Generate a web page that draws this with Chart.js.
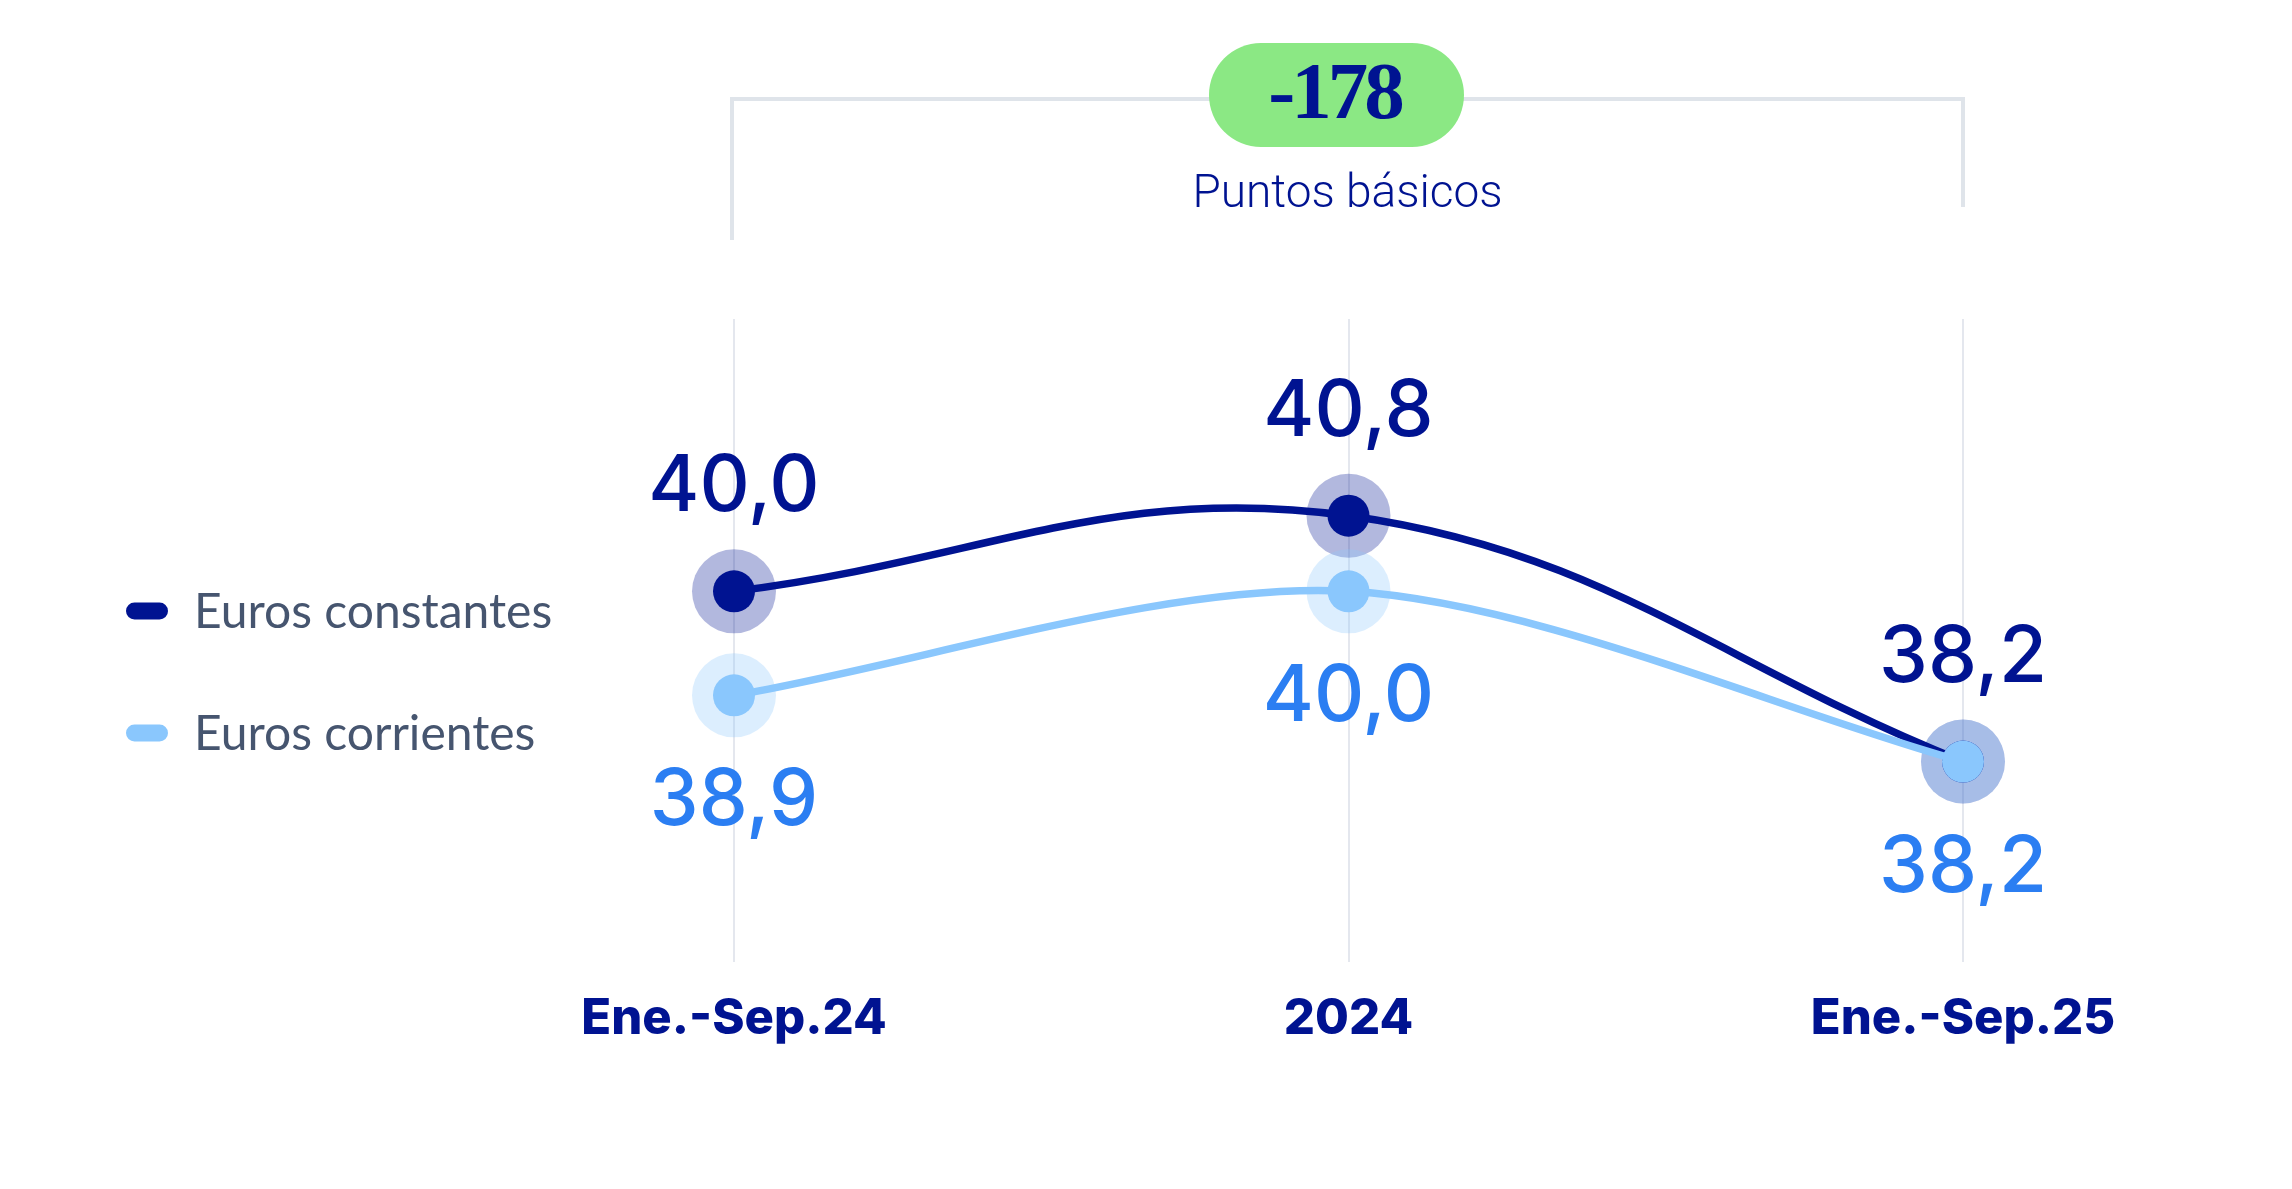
<!DOCTYPE html>
<html>
<head>
<meta charset="utf-8">
<script src="https://cdn.jsdelivr.net/npm/chart.js@4"></script>
<style>
  html, body { margin: 0; padding: 0; background: #ffffff; }
  #wrap { width: 2292px; height: 1189px; }
</style>
</head>
<body>
<div id="wrap"><canvas id="ratioChart" width="2292" height="1189"></canvas></div>
<script>
// Data
const categories = ['Ene.-Sep.24', '2024', 'Ene.-Sep.25'];
const seriesNames = ['Euros constantes', 'Euros corrientes'];
const eurosConstantes = [40.0, 40.8, 38.2];
const eurosCorrientes = [38.9, 40.0, 38.2];
const diffValue = '-178';
const diffCaption = 'Puntos básicos';

const NAVY = '#001391';
const SKY = '#8ac7fd';
const SKY_TEXT = '#2b7ef2';
const haloColors = ['rgba(0, 19, 145, 0.30)', 'rgba(138, 199, 253, 0.30)'];
const labelColors = [NAVY, SKY_TEXT];

// Halos behind points
const haloPlugin = {
  id: 'halos',
  beforeDatasetsDraw(chart) {
    const ctx = chart.ctx;
    ctx.save();
    chart.data.datasets.forEach((ds, i) => {
      const meta = chart.getDatasetMeta(i);
      ctx.fillStyle = haloColors[i];
      meta.data.forEach(p => {
        ctx.beginPath();
        ctx.arc(p.x, p.y, 42, 0, Math.PI * 2);
        ctx.fill();
      });
    });
    ctx.restore();
  }
};

// Value labels: first series above, second below
const valueLabels = {
  id: 'valueLabels',
  afterDatasetsDraw(chart) {
    const ctx = chart.ctx;
    ctx.save();
    ctx.font = '500 78px Inter';
    ctx.textAlign = 'center';
    ctx.textBaseline = 'alphabetic';
    chart.data.datasets.forEach((ds, i) => {
      const meta = chart.getDatasetMeta(i);
      ctx.fillStyle = labelColors[i];
      meta.data.forEach((p, j) => {
        const txt = ds.data[j].toFixed(1).replace('.', ',');
        const y = i === 0 ? p.y - 80 : p.y + 130;
        ctx.fillText(txt, p.x, y);
      });
    });
    ctx.restore();
  }
};

// Legend on the left
const sideLegend = {
  id: 'sideLegend',
  afterDraw(chart) {
    const ctx = chart.ctx;
    ctx.save();
    const rows = [611, 733];
    chart.data.datasets.forEach((ds, i) => {
      const cy = rows[i];
      ctx.fillStyle = ds.borderColor;
      ctx.beginPath();
      ctx.roundRect(126, cy - 8.5, 42, 17, 8.5);
      ctx.fill();
      ctx.fillStyle = '#46556f';
      ctx.font = '48px Lato';
      ctx.textAlign = 'left';
      ctx.textBaseline = 'alphabetic';
      ctx.fillText(ds.label, 194, cy + 17);
    });
    ctx.restore();
  }
};

// Bracket with the difference badge on top
const bracket = {
  id: 'bracket',
  afterDraw(chart) {
    const ctx = chart.ctx;
    const xs = chart.scales.x;
    const x0 = xs.getPixelForValue(0) - 2;
    const x2 = xs.getPixelForValue(2);
    const mid = (x0 + x2) / 2;
    ctx.save();
    ctx.strokeStyle = '#dfe4ea';
    ctx.lineWidth = 4;
    ctx.beginPath();
    ctx.moveTo(x0, 240);
    ctx.lineTo(x0, 99);
    ctx.lineTo(x2, 99);
    ctx.lineTo(x2, 207);
    ctx.stroke();

    const bx = mid - 11;
    ctx.fillStyle = '#8be884';
    ctx.beginPath();
    ctx.roundRect(bx - 127.5, 43, 255, 104, 52);
    ctx.fill();

    ctx.fillStyle = NAVY;
    ctx.textAlign = 'center';
    ctx.textBaseline = 'alphabetic';
    ctx.font = 'bold 81px "Liberation Serif"';
    ctx.letterSpacing = '-4px';
    ctx.fillText(diffValue, bx - 2, 118);
    ctx.letterSpacing = '0px';

    ctx.font = '300 46px Roboto';
    ctx.fillText(diffCaption, mid, 207);
    ctx.restore();
  }
};

const ctx = document.getElementById('ratioChart').getContext('2d');
const ratioChart = new Chart(ctx, {
  type: 'line',
  data: {
    labels: categories,
    datasets: [
      {
        label: seriesNames[0],
        data: eurosConstantes,
        borderColor: NAVY,
        backgroundColor: NAVY,
        pointBackgroundColor: NAVY,
        borderWidth: 7.5,
        pointRadius: 21,
        pointHoverRadius: 21,
        pointBorderWidth: 0,
        tension: 0.4,
        order: 2
      },
      {
        label: seriesNames[1],
        data: eurosCorrientes,
        borderColor: SKY,
        backgroundColor: SKY,
        pointBackgroundColor: SKY,
        borderWidth: 7.5,
        pointRadius: 21,
        pointHoverRadius: 21,
        pointBorderWidth: 0,
        tension: 0.3,
        order: 1
      }
    ]
  },
  options: {
    responsive: false,
    animation: false,
    devicePixelRatio: 1,
    layout: {
      padding: { left: 734, right: 329, top: 319, bottom: 112 }
    },
    plugins: {
      legend: { display: false },
      tooltip: { enabled: false }
    },
    scales: {
      x: {
        offset: false,
        border: { display: false },
        grid: { color: '#e4e7ee', lineWidth: 2, drawTicks: false },
        ticks: {
          color: NAVY,
          padding: 33,
          font: { family: 'Inter', weight: '800', size: 49, lineHeight: 1 }
        }
      },
      y: {
        display: false,
        min: 36.08,
        max: 42.88
      }
    }
  },
  plugins: [haloPlugin, valueLabels, sideLegend, bracket]
});
</script>
</body>
</html>
